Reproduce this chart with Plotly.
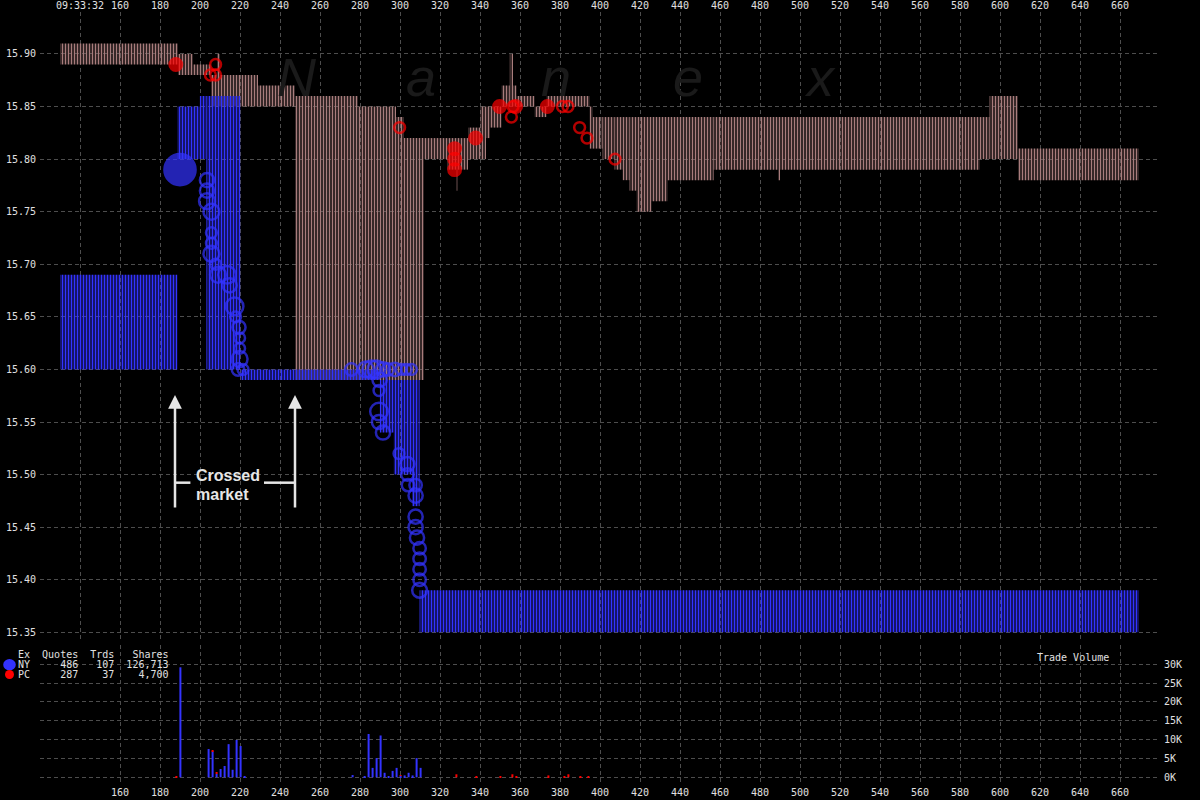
import math
import plotly.graph_objects as go

# ---------------- DATA ----------------
# x axis: time units; top label for 140 is the clock time
x_tick_vals = list(range(140, 661, 20))
x_top_text = ["09:33:32"] + [str(v) for v in range(160, 661, 20)]
x_bottom_vals = list(range(160, 661, 20))
price_ticks = [15.35, 15.40, 15.45, 15.50, 15.55, 15.60, 15.65, 15.70, 15.75, 15.80, 15.85, 15.90]
vol_ticks = [0, 5000, 10000, 15000, 20000, 25000, 30000]
vol_tick_text = ["0K", "5K", "10K", "15K", "20K", "25K", "30K"]

# NY quotes (blue): segment start, end, bid, ask
ny_q_start = [130.0, 188.7, 199.9, 203.2, 220.2, 289.9, 296.9, 306.0, 309.8]
ny_q_end   = [188.7, 199.9, 203.2, 220.2, 289.9, 296.9, 306.0, 309.8, 669.4]
ny_q_bid   = [15.60, 15.80, 15.80, 15.60, 15.59, 15.54, 15.50, 15.47, 15.35]
ny_q_ask   = [15.69, 15.85, 15.86, 15.86, 15.60, 15.59, 15.59, 15.59, 15.39]

# PC quotes (striped): segment start, end, bid, ask
pc_q_start = [130.0, 189.0, 196.5, 205.5, 208.5, 210.0, 229.0, 247.5, 279.0, 298.0,
              302.0, 312.0, 323.5, 328.0, 329.0, 334.0, 340.0, 343.0, 345.0, 350.8,
              354.9, 356.5, 358.3, 367.3, 373.3, 394.8, 396.3, 401.3, 407.3, 411.3,
              414.8, 418.3, 425.8, 433.8, 456.8, 489.0, 490.0, 589.8, 594.8, 609.0]
pc_q_end   = [189.0, 196.5, 205.5, 208.5, 210.0, 229.0, 247.5, 279.0, 298.0, 302.0,
              312.0, 323.5, 328.0, 329.0, 334.0, 340.0, 343.0, 345.0, 350.8, 354.9,
              356.5, 358.3, 367.3, 373.3, 394.8, 396.3, 401.3, 407.3, 411.3, 414.8,
              418.3, 425.8, 433.8, 456.8, 489.0, 490.0, 589.8, 594.8, 609.0, 669.4]
pc_q_bid   = [15.89, 15.88, 15.88, 15.85, 15.85, 15.85, 15.85, 15.59, 15.59, 15.59,
              15.59, 15.80, 15.79, 15.77, 15.79, 15.80, 15.80, 15.82, 15.83, 15.85,
              15.85, 15.85, 15.85, 15.84, 15.85, 15.81, 15.81, 15.80, 15.79, 15.78,
              15.77, 15.75, 15.76, 15.78, 15.79, 15.78, 15.79, 15.80, 15.80, 15.78]
pc_q_ask   = [15.91, 15.90, 15.89, 15.88, 15.90, 15.88, 15.87, 15.86, 15.85, 15.84,
              15.82, 15.82, 15.82, 15.82, 15.82, 15.83, 15.85, 15.85, 15.85, 15.87,
              15.90, 15.87, 15.86, 15.85, 15.86, 15.85, 15.84, 15.84, 15.84, 15.84,
              15.84, 15.84, 15.84, 15.84, 15.84, 15.84, 15.84, 15.84, 15.86, 15.81]

# NY trades
ny_t_x = [190.0, 203.5, 203.5, 203.5, 205.7, 205.7, 205.7, 205.7, 207.8, 209.0,
          213.5, 214.8, 217.3, 217.8, 219.5, 219.8, 219.8, 219.8, 219.0, 221.5,
          275.7, 282.9, 285.7, 288.2, 291.5, 294.0, 297.4, 300.7, 303.2, 305.7,
          289.8, 289.5, 289.5, 289.5, 291.5, 299.5, 303.7, 303.7, 304.0, 307.8,
          307.8, 307.8, 307.8, 308.5, 309.8, 309.8, 309.8, 309.8, 309.8]
ny_t_price = [15.79, 15.78, 15.77, 15.76, 15.75, 15.73, 15.72, 15.71, 15.70, 15.69,
              15.69, 15.68, 15.66, 15.65, 15.64, 15.63, 15.62, 15.61, 15.60, 15.60,
              15.60, 15.60, 15.60, 15.60, 15.60, 15.60, 15.60, 15.60, 15.60, 15.60,
              15.59, 15.58, 15.56, 15.55, 15.54, 15.52, 15.51, 15.50, 15.49, 15.49,
              15.48, 15.46, 15.45, 15.44, 15.43, 15.42, 15.41, 15.40, 15.39]
ny_t_shares = [29000, 1600, 1600, 2800, 2800, 200, 200, 2800, 200, 2800,
               4400, 1600, 4400, 200, 1000, 200, 200, 2800, 700, 200,
               700, 2800, 4400, 4400, 1600, 700, 1200, 200, 200, 200,
               1600, 200, 4400, 1600, 1600, 200, 1600, 700, 700, 700,
               1600, 1600, 1600, 1600, 700, 700, 700, 700, 2000]
ny_t_filled = [True] + [False] * 48

# PC trades
pc_t_x = [187.9, 205.2, 207.8, 207.8, 299.8, 327.3, 327.3, 327.3, 337.8, 349.8,
          355.7, 356.5, 357.8, 373.7, 381.2, 384.0, 389.8, 393.5, 407.5]
pc_t_price = [15.89, 15.88, 15.89, 15.88, 15.83, 15.81, 15.80, 15.79, 15.82, 15.85,
              15.84, 15.85, 15.85, 15.85, 15.85, 15.85, 15.83, 15.82, 15.80]
pc_t_shares = [700, 200, 200, 200, 200, 700, 700, 700, 700, 700,
               200, 200, 700, 700, 200, 200, 200, 200, 200]
pc_t_filled = [True, False, False, False, False, True, True, True, True, True,
               False, False, True, True, False, False, False, False, False]

# trade volume per time bin
ny_v_x = [190.2, 204.3, 206.3, 208.3, 210.3, 212.3, 214.3, 216.3, 218.3, 220.3,
          222.3, 276.3, 282.3, 284.3, 286.3, 288.3, 290.3, 292.3, 294.3, 296.3,
          298.3, 300.3, 302.3, 304.3, 306.3, 308.3, 310.3]
ny_v = [29200, 7500, 6900, 900, 2200, 3000, 8800, 2000, 9900, 8300,
        200, 600, 200, 11500, 2500, 5100, 11100, 1200, 200, 1700,
        2500, 400, 500, 1200, 500, 5100, 2500]
pc_v_x = [188.2, 206.3, 208.3, 300.3, 328.2, 338.2, 350.2, 356.2, 358.2, 374.2,
          382.2, 384.2, 390.2, 394.2]
pc_v = [300, 300, 500, 200, 800, 100, 100, 800, 100, 500, 100, 800, 100, 100]

legend_rows = [("Ex", "Quotes", "Trds", "Shares"),
               ("NY", "486", "107", "126,713"),
               ("PC", "287", "37", "4,700")]

# ---------------- STYLE / LAYOUT ----------------
BLUE = "#3333ff"
RED = "#ff0000"
STRIPE = "#a87c7c"
GRID = "#4d4d4d"
TXT = "#e0e0e0"
W, H = 1200, 800
ML, MR, MT, MB = 40, 40, 12, 15
PW, PH = W - ML - MR, H - MT - MB


def pxx(px):
    return (px - ML) / PW


def pxy(py):
    return (H - MB - py) / PH


MAIN_RANGE = [15.3427, 15.9399]
VOL_RANGE = [-2044, 35121]


def msize(s):
    return 9 + 0.13 * math.sqrt(s)


fig = go.Figure()


def quote_trace(st, en, bid, ask, color, solidity):
    return go.Bar(
        x=st, width=[e - s for s, e in zip(st, en)], offset=0,
        base=bid, y=[a - b for a, b in zip(ask, bid)],
        marker=dict(color=color, line=dict(width=0),
                    pattern=dict(shape="|", size=3, solidity=solidity, fillmode="replace")),
        xaxis="x", yaxis="y", hoverinfo="skip")


fig.add_trace(quote_trace(pc_q_start, pc_q_end, pc_q_bid, pc_q_ask, STRIPE, 0.55))
fig.add_trace(quote_trace(ny_q_start, ny_q_end, ny_q_bid, ny_q_ask, BLUE, 0.6))


def trade_trace(xs, ps, sh, filled, color):
    return go.Scatter(
        x=xs, y=ps, mode="markers", xaxis="x", yaxis="y",
        marker=dict(symbol=["circle" if f else "circle-open" for f in filled],
                    size=[msize(s) for s in sh], color=color,
                    line=dict(width=2.5, color=color)),
        hoverinfo="skip")


fig.add_trace(trade_trace(ny_t_x, ny_t_price, ny_t_shares, ny_t_filled, BLUE))
fig.add_trace(trade_trace(pc_t_x, pc_t_price, pc_t_shares, pc_t_filled, RED))

# volume bars: PC stacked on top of NY at the same bin
ny_lookup = dict(zip(ny_v_x, ny_v))
fig.add_trace(go.Bar(x=ny_v_x, y=ny_v, width=1.0, marker=dict(color=BLUE, line=dict(width=0)),
                     xaxis="x2", yaxis="y2", hoverinfo="skip"))
fig.add_trace(go.Bar(x=pc_v_x, y=pc_v, base=[ny_lookup.get(x, 0) for x in pc_v_x], width=1.0,
                     marker=dict(color=RED, line=dict(width=0)),
                     xaxis="x2", yaxis="y2", hoverinfo="skip"))

grid = dict(showgrid=True, gridcolor=GRID, gridwidth=1, griddash="4px,3px",
            zeroline=False, showline=False, ticks="", automargin=False)
tickfont = dict(family="DejaVu Sans Mono", size=10, color=TXT)

main_dom = [pxy(640), 1.0]
vol_dom = [0.0, pxy(645)]

fig.update_layout(
    width=W, height=H, template="none",
    margin=dict(l=ML, r=MR, t=MT, b=MB, pad=0),
    paper_bgcolor="black", plot_bgcolor="black",
    barmode="overlay", showlegend=False,
    font=dict(family="DejaVu Sans Mono", size=10, color=TXT),
    xaxis=dict(range=[120, 680], side="top", anchor="y", tickvals=x_tick_vals,
               ticktext=x_top_text, tickfont=tickfont, **grid),
    xaxis2=dict(range=[120, 680], side="bottom", anchor="y2", matches="x",
                tickvals=x_bottom_vals, ticktext=[str(v) for v in x_bottom_vals],
                tickfont=tickfont, **grid),
    yaxis=dict(domain=main_dom, range=MAIN_RANGE, side="left", anchor="x",
               tickvals=price_ticks, ticktext=["%.2f" % v for v in price_ticks],
               tickfont=tickfont, ticklabelstandoff=3, **grid),
    yaxis3=dict(domain=main_dom, range=MAIN_RANGE, side="right", overlaying="y", anchor="x",
                tickvals=price_ticks, ticktext=["%.2f" % v for v in price_ticks],
                tickfont=tickfont, showgrid=False, zeroline=False, showline=False,
                ticks="", automargin=False, ticklabelstandoff=3),
    yaxis2=dict(domain=vol_dom, range=VOL_RANGE, side="right", anchor="x2",
                tickvals=vol_ticks, ticktext=vol_tick_text, tickfont=tickfont,
                ticklabelstandoff=3, **grid),
)

annotations = []
shapes = []

# watermark
for ch, cx in zip(["N", "a", "n", "e", "x"], [297, 421, 556, 688, 820]):
    annotations.append(dict(text=ch, xref="paper", yref="paper", x=pxx(cx), y=pxy(77),
                            xanchor="center", yanchor="middle", showarrow=False,
                            font=dict(family="Liberation Sans", size=54, color="#1a1a1a",
                                      style="italic")))

# crossed market arrows
ARROW = "#e6e6e6"
for xv in [187.5, 247.5]:
    annotations.append(dict(text="", x=xv, y=15.5757, ax=xv, ay=15.4673,
                            xref="x", yref="y", axref="x", ayref="y",
                            showarrow=True, arrowhead=2, arrowsize=1.1, arrowwidth=2.5,
                            arrowcolor=ARROW, standoff=0, startstandoff=0))
shapes.append(dict(type="line", xref="x", yref="y", x0=187.5, x1=195.2, y0=15.4923, y1=15.4923,
                   line=dict(color=ARROW, width=2.5)))
shapes.append(dict(type="line", xref="x", yref="y", x0=232.0, x1=247.5, y0=15.4923, y1=15.4923,
                   line=dict(color=ARROW, width=2.5)))
for txt, yv in [("Crossed", 15.4990), ("market", 15.4813)]:
    annotations.append(dict(text="<b>%s</b>" % txt, x=197.0, y=yv, xref="x", yref="y",
                            xanchor="left", yanchor="middle", showarrow=False,
                            font=dict(family="Liberation Sans", size=16, color=ARROW)))

# legend table
NB = "\u00a0"
widths = [2, 8, 6, 9]
for row, ypx in zip(legend_rows, [654.7, 664.7, 674.3]):
    line = row[0].ljust(2)
    for cell, w in zip(row[1:], widths[1:]):
        line += cell.rjust(w)
    annotations.append(dict(text=line.replace(" ", NB), xref="paper", yref="paper",
                            x=pxx(16.5), y=pxy(ypx), xanchor="left", yanchor="middle",
                            showarrow=False, borderpad=0,
                            font=dict(family="DejaVu Sans Mono", size=10, color=TXT)))
for col, ypx, rx, ry in [(BLUE, 664.7, 6.3, 5.6), (RED, 674.5, 4.5, 4.5)]:
    shapes.append(dict(type="circle", xref="paper", yref="paper", xsizemode="pixel",
                       ysizemode="pixel", xanchor=pxx(9.5), yanchor=pxy(ypx),
                       x0=-rx, x1=rx, y0=-ry, y1=ry, fillcolor=col, line=dict(width=0)))

annotations.append(dict(text="Trade Volume", xref="paper", yref="paper", x=pxx(1073), y=pxy(657.5),
                        xanchor="center", yanchor="middle", showarrow=False,
                        font=dict(family="DejaVu Sans Mono", size=10, color=TXT)))

fig.update_layout(annotations=annotations, shapes=shapes)
fig.write_html("out.html")
